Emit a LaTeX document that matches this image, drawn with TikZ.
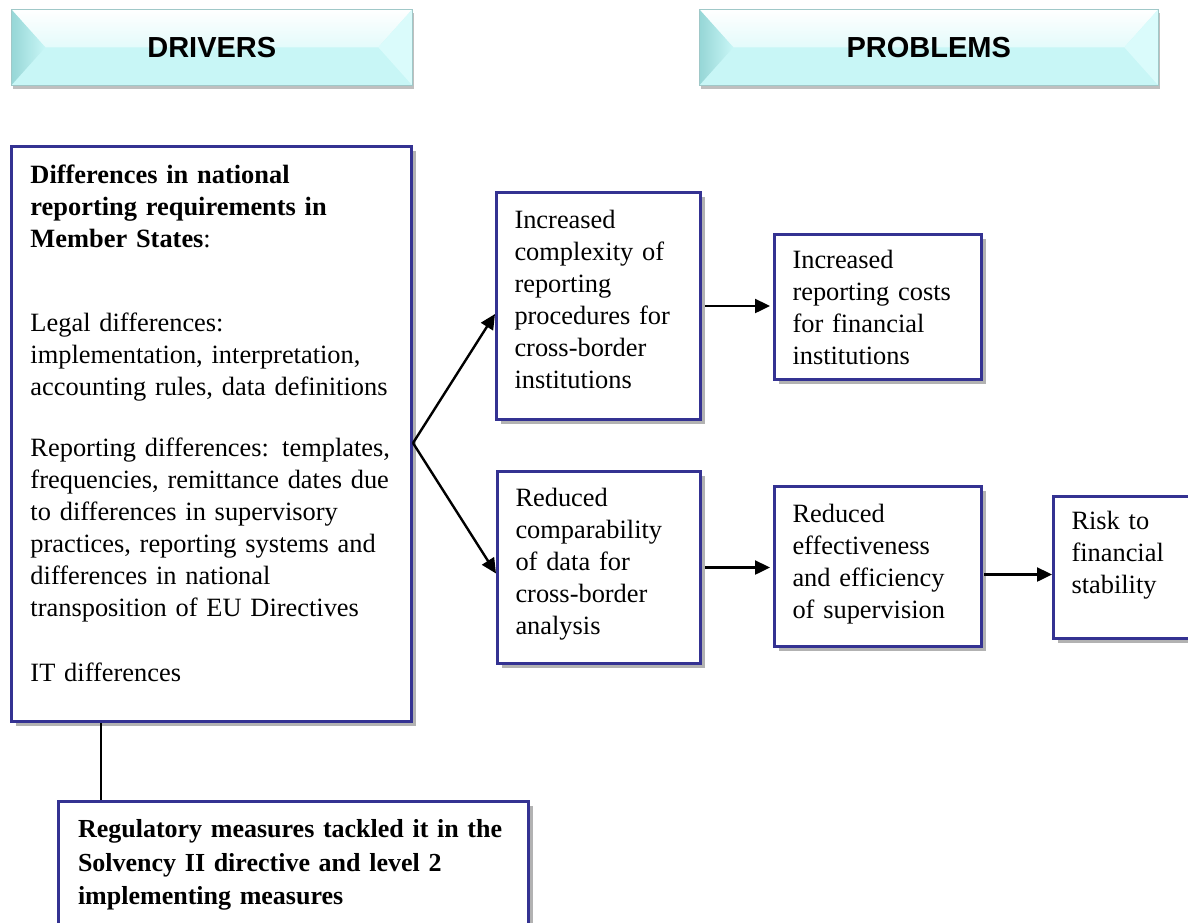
\documentclass[tikz,border=0pt]{standalone}
\usepackage{fontspec}
\setmainfont{Liberation Serif}
\newfontfamily\headfont{Liberation Sans}
\usepackage{xcolor}
\usepackage{tikz}
\usetikzlibrary{arrows.meta,shadows,calc}

\definecolor{boxblue}{RGB}{52,50,146}
\definecolor{headcyan}{RGB}{200,246,246}
\definecolor{headteal}{RGB}{150,214,214}
\definecolor{headlight}{RGB}{218,251,251}
\definecolor{headedge}{RGB}{160,200,200}

\tikzset{
  header/.style={anchor=north west, minimum height=76pt, inner sep=0pt,
    fill=headcyan, draw=headedge, line width=0.6pt,
    font=\headfont\bfseries\fontsize{29}{34}\selectfont,
    drop shadow={shadow xshift=2pt, shadow yshift=-4pt, fill=black, opacity=0.25},
    path picture={
      \shade[top color=white, bottom color=headcyan]
        (path picture bounding box.north west) -- (path picture bounding box.north east)
        -- ([xshift=-34pt]path picture bounding box.east) -- ([xshift=34pt]path picture bounding box.west) -- cycle;
      \shade[left color=headteal, right color=headcyan]
        (path picture bounding box.north west) -- ([xshift=34pt]path picture bounding box.west)
        -- (path picture bounding box.south west) -- cycle;
      \fill[headlight]
        (path picture bounding box.north east) -- ([xshift=-34pt]path picture bounding box.east)
        -- (path picture bounding box.south east) -- cycle;
    }},
  box/.style={anchor=north west, draw=boxblue, line width=3pt, fill=white,
    inner xsep=18pt, inner ysep=0pt, align=left,
    font=\fontsize{26.4}{32}\selectfont,
    drop shadow={shadow xshift=4pt, shadow yshift=-4pt, fill=black, opacity=0.3}},
  link/.style={line width=2.4pt, -{Triangle[length=15pt,width=14pt]}},
  tie/.style={line width=2.4pt}
}

\begin{document}
\begin{tikzpicture}[x=1pt, y=-1pt]
  \useasboundingbox (0,0) rectangle (1188,922);

  \node[header, minimum width=401pt] (drivers) at (11,9) {DRIVERS};
  \node[header, minimum width=459pt] (problems) at (699,9) {PROBLEMS};

  \node[box, inner xsep=19pt, text width=362pt, text height=37pt, text depth=538pt] (main) at (10,145)
    {\textbf{Differences in national}\\
     \textbf{reporting requirements in}\\
     \textbf{Member States}:\\[52pt]
     Legal differences:\\
     implementation, interpretation,\\
     accounting rules, data definitions\\[29pt]
     Reporting differences: templates,\\
     frequencies, remittance dates due\\
     to differences in supervisory\\
     practices, reporting systems and\\
     differences in national\\
     transposition of EU Directives\\[33pt]
     IT differences};

  \node[box, text width=168pt, text height=36pt, text depth=191pt] (complexity) at (495,191)
    {Increased\\ complexity of\\ reporting\\ procedures for\\ cross-border\\ institutions};
  \node[box, text width=171pt, text height=34pt, text depth=111pt] (costs) at (773,233)
    {Increased\\ reporting costs\\ for financial\\ institutions};
  \node[box, text width=167pt, text height=35pt, text depth=157pt] (comparability) at (496,470)
    {Reduced\\ comparability\\ of data for\\ cross-border\\ analysis};
  \node[box, text width=171pt, text height=36pt, text depth=124pt] (effectiveness) at (773,485)
    {Reduced\\ effectiveness\\ and efficiency\\ of supervision};
  \node[box, text width=114pt, text height=33pt, text depth=109pt] (risk) at (1052,495)
    {Risk to\\ financial\\ stability};
  \node[box, inner xsep=19.5pt, text width=431pt, text height=36pt, text depth=130pt,
        font=\bfseries\fontsize{26}{33.5}\selectfont] (regulatory) at (57,800)
    {Regulatory measures tackled it in the\\
     Solvency II directive and level 2\\
     implementing measures};

  \coordinate (fork) at (413,443);
  \draw[link] (fork) -- ([yshift=-8pt]complexity.west);
  \draw[link] (fork) -- ([yshift=-6pt]comparability.west);
  \draw[link, shorten <=3pt, shorten >=3pt] (complexity.east) -- (costs.west |- complexity.east);
  \draw[link, shorten <=3pt, shorten >=3pt] (comparability.east) -- (effectiveness.west |- comparability.east);
  \coordinate (effOut) at ([yshift=-8pt]effectiveness.east);
  \draw[link, shorten <=1pt] (effOut) -- (effOut -| risk.west);
  \coordinate (mainFoot) at ([xshift=91pt]main.south west);
  \draw[tie] (mainFoot) -- (mainFoot |- regulatory.north);
\end{tikzpicture}
\end{document}
